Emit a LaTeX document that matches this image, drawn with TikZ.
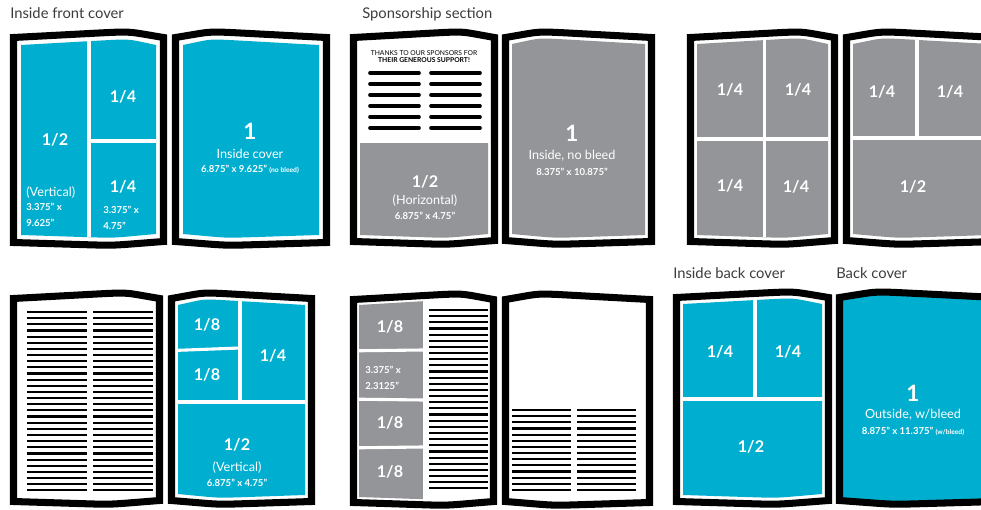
\documentclass[tikz,border=0pt]{standalone}
\usepackage{fontspec}
\setmainfont{Lato}
\usetikzlibrary{calc}

\definecolor{adcyan}{RGB}{0,175,207}
\definecolor{adgray}{RGB}{147,149,152}
\definecolor{capgray}{RGB}{60,60,60}

% one page of an open book: options, outer x, spine x, top, bottom, inset
\newcommand{\bookpage}[6]{%
  \pgfmathsetmacro\pgsg{sign(#3-#2)}%
  \pgfmathsetmacro\pgxo{#2+#6*\pgsg}%
  \pgfmathsetmacro\pgxs{#3-#6*\pgsg}%
  \pgfmathsetmacro\pgxp{#3-0.25*(#3-#2)}%
  \pgfmathsetmacro\pgxl{#3-0.35*(#3-#2)}%
  \path[#1] (\pgxo,#4+6+#6) -- ($(\pgxo,#4+6+#6)!0.7!(\pgxp,#4+#6)$)
    .. controls (\pgxp,#4+#6) .. ($(\pgxp,#4+#6)!0.5!(\pgxs,#4+6+#6)$)
    -- (\pgxs,#4+6+#6) -- (\pgxs,#5-4-#6)
    -- ($(\pgxs,#5-4-#6)!0.5!(\pgxl,#5-#6)$)
    .. controls (\pgxl,#5-#6) .. ($(\pgxl,#5-#6)!0.3!(\pgxo,#5-3-#6)$)
    -- (\pgxo,#5-3-#6) -- cycle;}

\begin{document}
\begin{tikzpicture}[x=0.025cm,y=-0.025cm,
    pageframe/.style={draw=black,line width=5pt,fill=white},
    divline/.style={draw=white,line width=2.2pt},
    txtline/.style={draw=black,line width=1.5pt},
    barline/.style={draw=black,line width=2.6pt,line cap=round},
    caplabel/.style={anchor=base west,inner sep=0pt,text=capgray,font=\fontsize{10.5}{12}\selectfont},
    fraclabel/.style={inner sep=0pt,text=white,font=\bfseries\fontsize{11.5}{13}\selectfont},
    onelabel/.style={inner sep=0pt,text=white,font=\bfseries\fontsize{16}{18}\selectfont},
    sublabel/.style={inner sep=0pt,text=white,font=\fontsize{9}{11}\selectfont},
    dimlabel/.style={inner sep=0pt,text=white,font=\bfseries\fontsize{6.8}{11.3}\selectfont},
    thanklabel/.style={inner sep=0pt,text=black,font=\fontsize{4.8}{6}\selectfont}]
    \useasboundingbox (0,0) rectangle (981,510);
    \clip (0,0) rectangle (981,510);

    % captions
    \node[caplabel] (cap-front) at (10,19) {Inside front cover};
    \node[caplabel] (cap-sponsor) at (362,19) {Sponsorship section};
    \node[caplabel] (cap-inback) at (673,279) {Inside back cover};
    \node[caplabel] (cap-back) at (836,279) {Back cover};

    % inside front cover
    \bookpage{pageframe}{10}{167}{28}{249}{3.5}
    \bookpage{pageframe}{330}{172}{28}{249}{3.5}
    \begin{scope}
        \bookpage{clip}{10}{167}{28}{249}{11}
        \fill[adcyan] (0,0) rectangle (200,300);
        \draw[divline] (89,0) -- (89,300);
        \draw[divline] (89,141) -- (200,141);
    \end{scope}
    \begin{scope}
        \bookpage{clip}{330}{172}{28}{249}{11}
        \fill[adcyan] (160,0) rectangle (340,300);
    \end{scope}
    \node[fraclabel] (a-half) at (55,140) {1/2};
    \node[sublabel,anchor=west] (a-vert) at (26,193) {(Vertical)};
    \node[dimlabel,anchor=west,align=left] (a-vdim) at (26,215) {3.375" x\\9.625"};
    \node[fraclabel] (a-qtop) at (123,97) {1/4};
    \node[fraclabel] (a-qbot) at (123,187) {1/4};
    \node[dimlabel,anchor=west,align=left] (a-qdim) at (103,218) {3.375" x\\4.75"};
    \node[onelabel] (a-one) at (250,131) {1};
    \node[sublabel] (a-cover) at (250,154) {Inside cover};
    \node[dimlabel] (a-size) at (250,169) {6.875" x 9.625" {\fontsize{4.8}{6}\selectfont(no bleed)}};

    % sponsorship section
    \bookpage{pageframe}{350}{498}{28}{248}{3.5}
    \bookpage{pageframe}{655}{502}{28}{248}{3.5}
    \begin{scope}
        \bookpage{clip}{350}{498}{28}{248}{10}
        \fill[adgray] (340,143) rectangle (510,260);
    \end{scope}
    \begin{scope}
        \bookpage{clip}{655}{502}{28}{248}{10}
        \fill[adgray] (490,0) rectangle (670,260);
    \end{scope}
    \node[thanklabel] (b-thanks) at (424,53) {THANKS TO OUR SPONSORS FOR};
    \node[thanklabel,font=\bfseries\fontsize{4.8}{6}\selectfont] (b-support) at (424,60.5) {THEIR GENEROUS SUPPORT!};
    \foreach \i in {0,...,5} {
        \draw[barline] (370,73+11*\i) -- (419,73+11*\i);
        \draw[barline] (431,73+11*\i) -- (480,73+11*\i);
    }
    \node[fraclabel] (b-half) at (425,182) {1/2};
    \node[sublabel] (b-horiz) at (425,201) {(Horizontal)};
    \node[dimlabel] (b-size) at (425,216) {6.875" x 4.75"};
    \node[onelabel] (b-one) at (572,133) {1};
    \node[sublabel] (b-nobleed) at (572,156) {Inside, no bleed};
    \node[dimlabel] (b-dim) at (572,172) {8.375" x 10.875"};

    % four quarters and two quarters plus half
    \bookpage{pageframe}{687}{838}{28}{248}{3.5}
    \bookpage{pageframe}{1000}{843}{28}{248}{3.5}
    \begin{scope}
        \bookpage{clip}{687}{838}{28}{248}{10}
        \fill[adgray] (680,0) rectangle (850,260);
        \draw[divline] (764.5,0) -- (764.5,260);
        \draw[divline] (680,139) -- (850,139);
    \end{scope}
    \begin{scope}
        \bookpage{clip}{1000}{843}{28}{248}{10}
        \fill[adgray] (835,0) rectangle (1010,260);
        \draw[divline] (917,0) -- (917,138);
        \draw[divline] (835,138) -- (1010,138);
    \end{scope}
    \node[fraclabel] (c-q1) at (730,90) {1/4};
    \node[fraclabel] (c-q2) at (798,90) {1/4};
    \node[fraclabel] (c-q3) at (730,186) {1/4};
    \node[fraclabel] (c-q4) at (796,187) {1/4};
    \node[fraclabel] (c-q5) at (882,92) {1/4};
    \node[fraclabel] (c-q6) at (950,92) {1/4};
    \node[fraclabel] (c-half) at (913,187) {1/2};

    % text page with eighths
    \bookpage{pageframe}{10}{163}{289}{508}{3.5}
    \bookpage{pageframe}{315}{168}{289}{508}{3.5}
    \foreach \i in {0,...,29} {
        \draw[txtline] (27,312+6.15*\i) -- (87,312+6.15*\i);
        \draw[txtline] (93,312+6.15*\i) -- (153,312+6.15*\i);
    }
    \begin{scope}
        \bookpage{clip}{315}{168}{289}{508}{10}
        \fill[adcyan] (160,280) rectangle (330,520);
        \draw[divline] (160,402) -- (330,402);
        \draw[divline] (240,280) -- (240,402);
        \draw[divline] (160,351) -- (240,348);
    \end{scope}
    \node[fraclabel] (d-e1) at (207,325) {1/8};
    \node[fraclabel] (d-e2) at (207,375) {1/8};
    \node[fraclabel] (d-q) at (273,356) {1/4};
    \node[fraclabel] (d-half) at (237,445) {1/2};
    \node[sublabel] (d-vert) at (237,468) {(Vertical)};
    \node[dimlabel] (d-size) at (237,483) {6.875" x 4.75"};

    % eighths column beside text
    \bookpage{pageframe}{350}{497}{290}{509}{3.5}
    \bookpage{pageframe}{653}{502}{290}{509}{3.5}
    \begin{scope}
        \bookpage{clip}{350}{497}{290}{509}{9}
        \fill[adgray] (340,280) rectangle (423,520);
        \draw[divline] (340,351) -- (423,350);
        \draw[divline] (340,399) -- (423,400);
        \draw[divline] (340,448) -- (423,447);
    \end{scope}
    \foreach \i in {0,...,29}
        \draw[txtline] (429,310+6.15*\i) -- (488,310+6.15*\i);
    \foreach \i in {0,...,13} {
        \draw[txtline] (512,410+6.15*\i) -- (571,410+6.15*\i);
        \draw[txtline] (577,410+6.15*\i) -- (636,410+6.15*\i);
    }
    \node[fraclabel] (e-e1) at (390,327) {1/8};
    \node[dimlabel,anchor=west,align=left] (e-dim) at (365,378) {3.375" x\\2.3125"};
    \node[fraclabel] (e-e3) at (390,423) {1/8};
    \node[fraclabel] (e-e4) at (390,472) {1/8};

    % inside back cover and back cover
    \bookpage{pageframe}{673}{832}{288}{508}{3.5}
    \bookpage{pageframe,fill=adcyan}{1000}{836}{288}{508}{3.5}
    \begin{scope}
        \bookpage{clip}{673}{832}{288}{508}{10}
        \fill[adcyan] (665,280) rectangle (840,520);
        \draw[divline] (665,399) -- (840,399);
        \draw[divline] (755,280) -- (755,399);
    \end{scope}
    \node[fraclabel] (f-q1) at (720,352) {1/4};
    \node[fraclabel] (f-q2) at (788,352) {1/4};
    \node[fraclabel] (f-half) at (751,447) {1/2};
    \node[onelabel] (f-one) at (913,393) {1};
    \node[sublabel] (f-outside) at (913,415) {Outside, w/bleed};
    \node[dimlabel] (f-size) at (913,431) {8.875" x 11.375" {\fontsize{4.8}{6}\selectfont(w/bleed)}};
\end{tikzpicture}
\end{document}
